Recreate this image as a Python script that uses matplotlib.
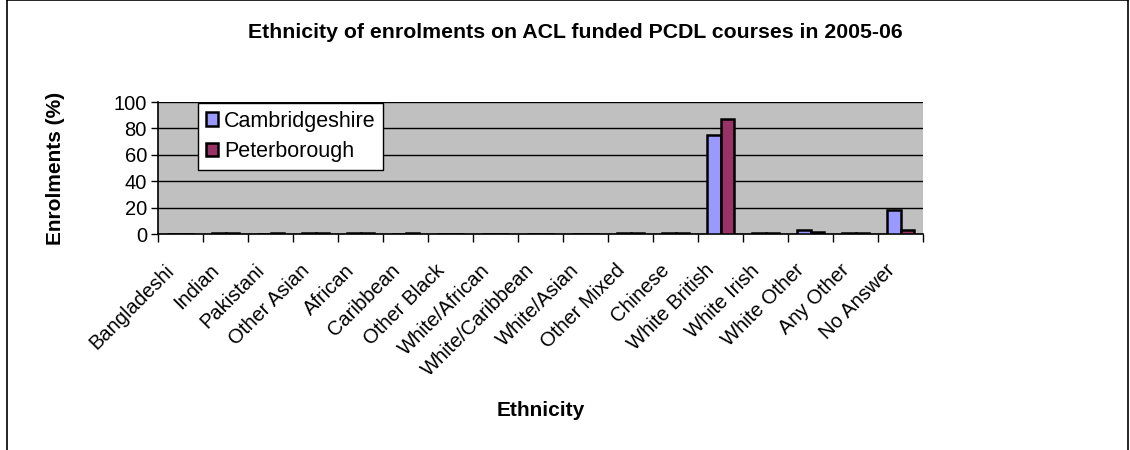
import numpy as np
import matplotlib.pyplot as plt
import matplotlib.transforms as mtrans
from matplotlib.lines import Line2D

plt.rcParams['font.family'] = ['Liberation Sans', 'DejaVu Sans']

ethnicity = ['Bangladeshi', 'Indian', 'Pakistani', 'Other Asian', 'African',
             'Caribbean', 'Other Black', 'White/African', 'White/Caribbean',
             'White/Asian', 'Other Mixed', 'Chinese', 'White British',
             'White Irish', 'White Other', 'Any Other', 'No Answer']
cambs = [0.1, 0.5, 0.1, 0.5, 0.5, 0.1, 0, 0, 0, 0, 0.5, 0.5, 74.8, 0.5, 3.0, 0.5, 18.1]
peterb = [0.1, 1.0, 0.5, 1.0, 0.5, 0.5, 0, 0, 0, 0, 0.4, 0.5, 87.1, 1.0, 1.8, 0.5, 3.0]

fig = plt.figure(figsize=(11.3, 4.5), dpi=100)
ax = fig.add_axes([158/1130, 1-234/450, (923-158)/1130, (234-102)/450])
ax.set_facecolor('#C0C0C0')

x = np.arange(len(ethnicity))
w = 0.29
ax.bar(x - w/2, cambs, w, color='#9999FF', edgecolor='black', linewidth=1.8,
       label='Cambridgeshire', zorder=3)
ax.bar(x + w/2, peterb, w, color='#993366', edgecolor='black', linewidth=1.8,
       label='Peterborough', zorder=3)

ax.set_xlim(-0.5, len(ethnicity) - 0.5)
ax.set_ylim(0, 100)
ax.set_yticks(np.arange(0, 101, 20))
ax.yaxis.grid(True, color='black', linewidth=1)
ax.set_axisbelow(True)
ax.set_xticks(np.arange(len(ethnicity) + 1) - 0.5)
ax.set_xticklabels([])
ax.set_xticks(x, minor=True)
ax.set_xticklabels(ethnicity, minor=True, rotation=45, ha='right', va='center',
                   rotation_mode='anchor', fontsize=14.5)
ax.tick_params(axis='x', which='minor', length=0, pad=24)
ax.tick_params(axis='x', which='major', length=6, width=1, color='black')
ax.tick_params(axis='y', labelsize=14.5, length=5, width=1, pad=3)
# nudge rotated labels a little to the left
shift = mtrans.ScaledTranslation(-9/100, 0, fig.dpi_scale_trans)
for lab in ax.get_xticklabels(minor=True):
    lab.set_transform(lab.get_transform() + shift)
for s in ['top', 'right']:
    ax.spines[s].set_visible(False)
for s in ['left', 'bottom']:
    ax.spines[s].set_linewidth(1.2)

ax.set_ylabel('Enrolments (%)', fontsize=15, fontweight='bold', labelpad=35)
ax.set_xlabel('Ethnicity', fontsize=15, fontweight='bold', labelpad=15)

fig.text(0.509, 1-33/450, 'Ethnicity of enrolments on ACL funded PCDL courses in 2005-06',
         ha='center', va='center', fontsize=15.3, fontweight='bold')

leg = ax.legend(loc='upper left', bbox_to_anchor=(198/1130, 1-103/450),
                bbox_transform=fig.transFigure, fontsize=15.5, fancybox=False,
                framealpha=1, edgecolor='black', handlelength=0.6,
                handleheight=0.6, handletextpad=0.25, borderaxespad=0,
                labelspacing=0.45, borderpad=0.35)
leg.get_frame().set_linewidth(1)
for h in leg.legend_handles:
    h.set_linewidth(1.8)

# chart area border
fig.add_artist(Line2D([7/1130, 7/1130], [0, 1], color='black', lw=1.2))
fig.add_artist(Line2D([7/1130, 1128/1130], [0.999, 0.999], color='black', lw=1.2))
fig.add_artist(Line2D([1128/1130, 1128/1130], [0, 1], color='black', lw=1.2))

fig.savefig('out.png', dpi=100)
